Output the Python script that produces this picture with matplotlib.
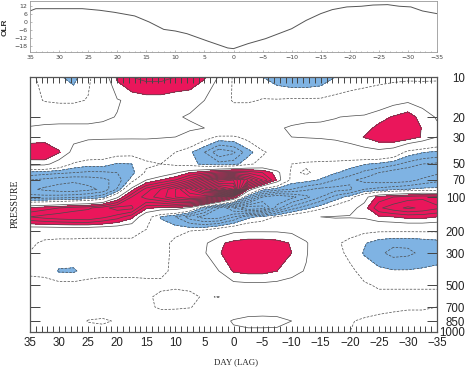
import numpy as np
import matplotlib
matplotlib.use("Agg")
import matplotlib.pyplot as plt
from matplotlib.ticker import FixedLocator

# ---- data ----
# OLR lag composite (top panel)
olr_day = [35, 34, 26, 23, 20.5, 17, 14.5, 12, 10, 8, 4.5, 1, 0, -2.5, -5.5, -10,
           -12.5, -15, -17, -19.5, -22, -24, -26.5, -28.5, -30.5, -32.5, -35]
olr_val = [8.3, 10, 10, 8.8, 7.3, 4.6, 0.1, -5.4, -6.6, -8.6, -14, -19.2, -19.7, -16,
           -12.3, -4.9, 1.3, 6.3, 9.3, 11.3, 11.8, 12.7, 13, 11.8, 11.3, 8.3, 6.3]

# lag-pressure section (bottom panel)
lag_days = [35, 32.5, 30, 27.5, 25, 22.5, 20, 17.5, 15, 12.5, 10, 7.5, 5, 2.5, 0,
            -2.5, -5, -7.5, -10, -12.5, -15, -17.5, -20, -22.5, -25, -27.5, -30, -32.5, -35]
pres = [10, 15, 20, 25, 30, 40, 50, 60, 70, 85, 100, 125, 150, 200, 250, 300,
        400, 500, 600, 700, 850, 1000]
anom = [
    # 10
    [-0.8, -1.3, -1.9, -2.3, -1.3, 0.2, 2.2, 3.0, 3.3, 3.3, 3.0, 2.7, 2.1, 0.9, -1.2,
     -1.5, -2.0, -2.5, -2.8, -2.8, -2.6, -2.0, -1.6, -1.5, -1.5, -1.4, -1.3, -1.3, -1.2],
    # 15
    [-0.4, -1.1, -1.3, -1.3, -0.9, -0.2, 0.9, 1.3, 1.5, 1.5, 1.3, 1.3, 1.0, 0.2, -1.2,
     -1.2, -0.9, -0.9, -0.8, -0.8, -0.8, -0.6, -0.5, -0.3, 0.2, 0.6, 0.8, 0.6, 0.2],
    # 20
    [0.5, 0.6, 0.7, 0.7, 0.7, 0.8, 1.05, 1.2, 1.3, 1.3, 1.1, 0.9, 0.7, 0.5, 0.4,
     0.4, 0.5, 0.6, 0.7, 0.8, 0.85, 0.95, 1.1, 1.2, 1.6, 2.1, 2.6, 1.5, 0.9],
    # 25
    [1.1, 1.2, 1.2, 1.2, 1.2, 1.3, 1.4, 1.5, 1.5, 1.4, 1.3, 1.2, 1.0, 0.7, 0.6,
     0.6, 0.7, 0.9, 1.1, 1.2, 1.2, 1.3, 1.4, 1.6, 2.3, 2.8, 3.0, 1.9, 1.2],
    # 30
    [1.5, 1.5, 1.4, 1.3, 1.2, 1.2, 1.2, 1.2, 1.2, 1.1, 1.0, 0.5, -0.5, -1.2, -1.2,
     -0.6, 0.3, 0.8, 1.0, 1.05, 1.1, 1.2, 1.5, 2.05, 2.6, 2.8, 2.6, 1.9, 1.0],
    # 40
    [2.8, 3.0, 2.1, 0.6, 0.0, -0.3, -0.5, -0.6, -0.5, -0.5, -1.0, -1.8, -3.0, -4.8, -4.2,
     -2.4, -1.2, -0.4, -0.2, 0.0, 0.0, 0.1, 0.2, 0.4, 0.6, 0.2, -1.4, -1.9, -2.2],
    # 50
    [1.5, 1.4, 0.3, -1.2, -1.6, -1.5, -2.1, -2.0, -1.2, -1.0, -1.3, -1.6, -2.3, -2.6, -2.4,
     -1.3, -0.5, -0.8, -1.0, -1.2, -1.3, -1.4, -1.6, -1.9, -2.2, -2.7, -3.4, -4.0, -4.2],
    # 60
    [-2.4, -2.6, -2.8, -3.0, -3.2, -3.2, -3.0, -2.3, -0.8, 0.0, 0.8, 2.0, 2.8, 3.8, 4.2,
     3.8, 3.0, 1.5, -1.3, -0.8, -1.5, -1.9, -2.4, -3.3, -4.0, -4.6, -4.9, -4.6, -4.2],
    # 70
    [-4.0, -4.3, -4.6, -4.8, -4.6, -4.3, -3.6, -1.6, 1.0, 2.0, 3.0, 5.0, 8.0, 11.0, 12.0,
     8.0, 5.0, 1.8, -1.4, -1.6, -2.1, -3.0, -3.8, -4.3, -4.5, -4.6, -4.4, -3.8, -3.3],
    # 85
    [-4.8, -5.2, -5.5, -5.6, -5.3, -4.8, -2.9, 1.5, 4.5, 6.0, 8.0, 11.0, 14.0, 17.0, 15.0,
     2.0, -1.5, -2.5, -3.0, -3.8, -4.3, -4.4, -4.2, -3.0, -2.7, -2.3, -2.0, -1.7, -1.7],
    # 100
    [-3.6, -3.6, -3.5, -3.3, -3.0, -2.3, 0.7, 4.0, 5.5, 6.5, 8.0, 9.0, 9.0, 6.0, 3.0,
     -2.5, -6.0, -7.0, -6.3, -5.3, -4.0, -2.6, -1.6, 0.5, 2.4, 3.0, 3.5, 3.8, 3.5],
    # 125
    [2.2, 2.6, 3.0, 3.5, 3.8, 4.6, 5.5, 5.3, 2.2, 1.8, 1.8, 0.7, -2.5, -5.0, -7.0,
     -9.0, -8.5, -5.5, -3.5, -2.3, -1.3, -0.3, 0.5, 1.5, 3.8, 4.6, 5.2, 4.8, 4.2],
    # 150
    [4.0, 4.4, 4.7, 4.9, 5.0, 4.3, 3.5, 2.3, -0.3, -2.1, -3.0, -4.5, -5.5, -5.5, -4.0,
     -2.3, -1.7, -0.8, 0.0, 0.5, 1.0, 1.1, 1.1, 1.2, 1.8, 2.0, 2.3, 2.3, 2.0],
    # 200
    [-0.4, -0.5, -0.5, -0.5, -0.6, -0.6, -0.6, -0.6, -1.1, -1.3, -1.2, -1.0, -0.6, 0.3, 0.8,
     0.9, 0.9, 0.9, 0.8, 0.5, 0.2, -0.2, -0.6, -0.8, -0.9, -0.9, -0.9, -0.9, -0.9],
    # 250
    [-0.8, -1.2, -1.3, -1.3, -1.3, -1.3, -1.3, -1.3, -1.3, -1.3, -0.8, 0.0, 0.8, 1.8, 2.3,
     2.6, 2.6, 2.4, 1.9, 1.1, 0.2, -0.8, -1.3, -1.9, -2.5, -2.8, -2.8, -2.6, -2.4],
    # 300
    [-1.05, -1.2, -1.4, -1.4, -1.3, -1.3, -1.3, -1.3, -1.3, -1.3, -0.8, 0.2, 0.9, 1.9, 2.6,
     2.9, 2.9, 2.7, 2.0, 1.1, 0.1, -0.7, -1.2, -2.1, -2.8, -3.3, -3.2, -2.8, -2.5],
    # 400
    [-1.2, -1.3, -2.1, -2.15, -1.5, -1.3, -1.3, -1.3, -1.3, -1.2, -0.8, -0.2, 0.3, 1.0, 2.1,
     2.3, 2.3, 2.0, 1.4, 0.9, 0.1, -0.3, -0.8, -1.3, -1.7, -1.9, -1.9, -1.8, -1.7],
    # 500
    [-0.6, -0.6, -0.6, -0.6, -0.6, -0.6, -0.6, -0.6, -0.7, -0.8, -0.85, -0.8, -0.2, 0.2, 0.6,
     0.7, 0.7, 0.6, 0.5, 0.4, 0.0, -0.3, -0.5, -0.9, -1.1, -1.1, -1.1, -1.1, -1.1],
    # 600
    [-0.4, -0.4, -0.5, -0.5, -0.5, -0.5, -0.5, -0.6, -0.85, -1.2, -1.3, -1.2, -0.9, -1.05, -0.3,
     0.0, 0.1, 0.1, 0.0, -0.1, -0.3, -0.5, -0.6, -0.7, -0.8, -0.8, -0.8, -0.8, -0.8],
    # 700
    [-0.3, -0.3, -0.4, -0.4, -0.4, -0.4, -0.4, -0.5, -0.85, -1.1, -1.1, -1.05, -0.7, -0.3, 0.2,
     0.4, 0.5, 0.5, 0.3, 0.0, -0.2, -0.4, -0.6, -0.7, -0.8, -0.9, -0.95, -0.95, -1.0],
    # 850
    [-0.2, -0.3, -0.4, -0.5, -1.05, -1.15, -0.9, -0.6, -0.5, -0.5, -0.4, -0.2, 0.2, 0.6, 1.1,
     1.3, 1.3, 1.25, 1.0, 0.3, -0.3, -0.6, -0.95, -1.1, -1.2, -1.2, -1.2, -1.2, -1.3],
    # 1000
    [-0.1, -0.2, -0.3, -0.4, -0.6, -0.6, -0.5, -0.4, -0.3, -0.3, -0.2, 0.0, 0.3, 0.5, 0.8,
     0.8, 0.8, 0.8, 0.6, 0.2, -0.3, -0.7, -1.0, -1.2, -1.3, -1.3, -1.3, -1.3, -1.3],
]

p_ticks = [10, 20, 30, 50, 70, 100, 200, 300, 500, 700, 850, 1000]
day_ticks = [35, 30, 25, 20, 15, 10, 5, 0, -5, -10, -15, -20, -25, -30, -35]
olr_ticks = [-18, -12, -6, 0, 6, 12]

# ---- vertical axis: stretched pressure scale ----
tick_row = np.array([77, 117, 137, 164, 180, 197, 231, 253, 285, 307, 321, 332], float)
logp = np.log10(p_ticks)
s0 = (tick_row[1] - tick_row[0]) / (logp[1] - logp[0])
s1 = (tick_row[-1] - tick_row[-2]) / (logp[-1] - logp[-2])


def p_fwd(p):
    lp = np.log10(np.clip(np.asarray(p, float), 1e-6, None))
    y = np.interp(lp, logp, tick_row)
    y = np.where(lp < logp[0], tick_row[0] + (lp - logp[0]) * s0, y)
    y = np.where(lp > logp[-1], tick_row[-1] + (lp - logp[-1]) * s1, y)
    return y


def p_inv(y):
    y = np.asarray(y, float)
    lp = np.interp(y, tick_row, logp)
    lp = np.where(y < tick_row[0], logp[0] + (y - tick_row[0]) / s0, lp)
    lp = np.where(y > tick_row[-1], logp[-1] + (y - tick_row[-1]) / s1, lp)
    return 10 ** lp


def lab(v):
    return str(v).replace('-', '\u2212')


W, H = 465, 368
fig = plt.figure(figsize=(W / 100, H / 100), dpi=100)
fig.patch.set_facecolor('white')

RED = '#EA165B'
BLUE = '#7FB3E3'
LINE = '#4a4a4a'

# ---- top panel: OLR ----
ax1 = fig.add_axes([30 / W, 1 - 52 / H, 407 / W, 51 / H])
ax1.plot(olr_day, olr_val, color='#555555', lw=0.7)
ax1.set_xlim(35, -35)
ax1.set_ylim(-22.2, 15.7)
ax1.set_xticks(day_ticks)
ax1.set_xticklabels([lab(d) for d in day_ticks])
ax1.set_yticks(olr_ticks)
ax1.set_yticklabels([lab(v) for v in olr_ticks])
ax1.xaxis.set_minor_locator(FixedLocator(np.arange(-35, 36, 1)))
ax1.tick_params(which='both', direction='in', length=1.5, width=0.4, color='#888888',
                labelsize=4.5, labelcolor='#444444', pad=2)
ax1.tick_params(which='minor', length=1.0)
for s in ax1.spines.values():
    s.set_color('#999999')
    s.set_linewidth(0.6)
fig.text(5 / W, 1 - 27 / H, 'OLR', rotation=90, ha='center', va='center',
         fontsize=6, fontweight='bold', family='Liberation Sans', color='#333333')

# ---- bottom panel: lag-pressure section ----
ax = fig.add_axes([30 / W, 1 - 332 / H, 407 / W, 255 / H])
ax.set_yscale('function', functions=(p_fwd, p_inv))
field = np.array(anom, float)
assert field.shape == (len(pres), len(lag_days))
X, P = np.meshgrid(lag_days, pres)

ax.contourf(X, P, field, levels=[2, 100], colors=[RED])
ax.contourf(X, P, field, levels=[-100, -2], colors=[BLUE])
pos_lv = np.arange(1, 19)
neg_lv = np.arange(-12, 0)
ax.contour(X, P, field, levels=pos_lv, colors=LINE, linewidths=0.5,
           linestyles='solid')
ax.contour(X, P, field, levels=neg_lv, colors=LINE, linewidths=0.5,
           linestyles=[(0, (3.5, 2.0))])

ax.set_xlim(35, -35)
ax.set_ylim(1000, 10)

ax.xaxis.set_major_locator(FixedLocator(day_ticks))
ax.set_xticklabels([lab(d) for d in day_ticks])
ax.xaxis.set_minor_locator(FixedLocator(np.arange(-35, 36, 1)))
ax.tick_params(axis='x', which='both', direction='in', top=True, bottom=True,
               length=4.5, width=0.7, color='#444444')
ax.tick_params(axis='x', which='major', labelsize=8.3, pad=3.5, labelcolor='#222222')
for t in ax.get_xticklabels():
    t.set_family('Liberation Sans')

ax.yaxis.set_major_locator(FixedLocator(p_ticks))
ax.yaxis.set_minor_locator(FixedLocator([]))
ax.set_yticklabels([str(p) for p in p_ticks])
ax.tick_params(axis='y', which='major', direction='in', left=True, right=True,
               labelleft=False, labelright=True, length=7.5, width=0.7,
               color='#444444', labelsize=8.3, pad=20.2, labelcolor='#222222')
for t in ax.get_yticklabels():
    t.set_horizontalalignment('right')
    t.set_family('Liberation Sans')

for s in ax.spines.values():
    s.set_color('#555555')
    s.set_linewidth(0.9)

fig.text(15 / W, 1 - 204 / H, 'PRESSURE', rotation=90, ha='center', va='center',
         fontsize=7, family='Liberation Serif', color='#222222')
fig.text(236 / W, 1 - 362 / H, 'DAY (LAG)', ha='center', va='center',
         fontsize=6.3, family='Liberation Serif', color='#222222')

fig.savefig('out.png', dpi=100, facecolor='white')
